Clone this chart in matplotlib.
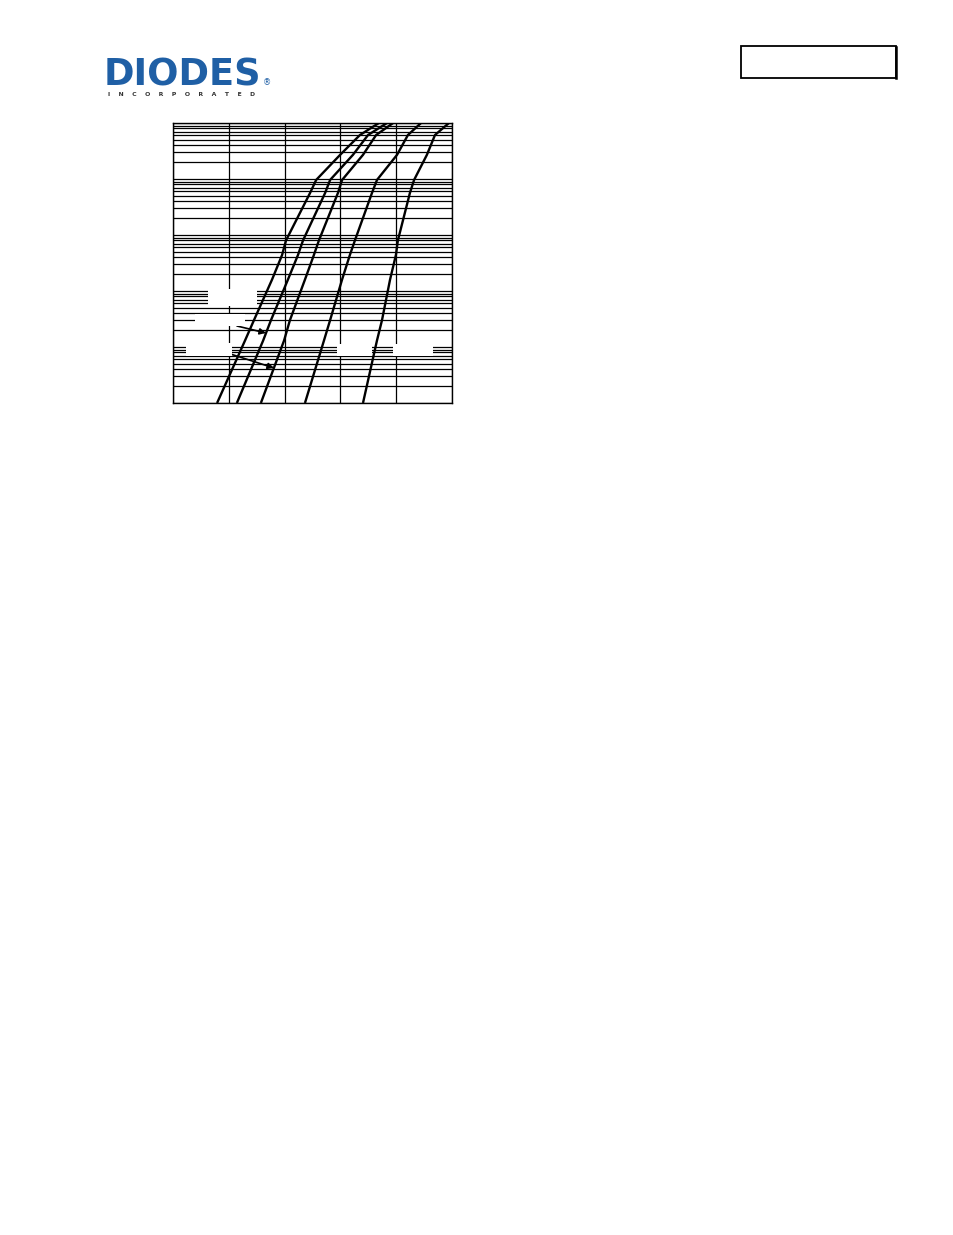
import matplotlib
matplotlib.use("Agg")
import matplotlib.pyplot as plt
from matplotlib.patches import Rectangle
from matplotlib.ticker import LogLocator, MultipleLocator, NullFormatter

W, H = 954, 1235

# forward current levels (mA) shared by all curves
i_f = [0.01, 0.13, 0.3, 1.6, 4.4, 8, 56, 96, 270, 610, 1000]

# forward voltage (V) per curve
v_a = [0.158, 0.258, 0.290, 0.355, 0.391, 0.405, 0.491, 0.513, 0.599, 0.670, 0.738]
v_b = [0.229, 0.323, 0.351, 0.412, 0.448, 0.466, 0.545, 0.563, 0.645, 0.699, 0.767]
v_c = [0.315, 0.398, 0.419, 0.473, 0.505, 0.523, 0.591, 0.606, 0.681, 0.728, 0.789]
v_d = [0.473, 0.541, 0.563, 0.606, 0.634, 0.652, 0.713, 0.731, 0.803, 0.842, 0.889]
v_e = [0.681, 0.731, 0.749, 0.778, 0.799, 0.806, 0.849, 0.864, 0.910, 0.939, 0.989]
curves = [v_a, v_b, v_c, v_d, v_e]


def fpx(x, y):
    """page pixel (from top-left) -> figure fraction"""
    return x / W, 1 - y / H


fig = plt.figure(figsize=(W / 100, H / 100), dpi=100)

# --- header: logo + part number box ---
fig.text(*fpx(104, 86), "DIODES", color="#1f5fa5", fontsize=26.5,
         fontweight="heavy", family=["DejaVu Sans"],
         ha="left", va="baseline")
fig.add_artist(plt.Line2D([104 / W, 240 / W], [1 - 72 / H] * 2, color="white", lw=1.4))
fig.text(*fpx(182, 96), "I    N    C    O    R    P    O    R    A    T    E    D",
         color="#333333", fontsize=4.4, fontweight="bold", ha="center", va="baseline")
fig.text(*fpx(267, 85), "®", color="#1f5fa5", fontsize=6, ha="center", va="baseline")

x0, y0 = fpx(741, 78)
fig.add_artist(Rectangle((x0, y0), 155 / W, 32 / H, transform=fig.transFigure,
                         facecolor="white", edgecolor="black", lw=1.3))
fig.add_artist(plt.Line2D([896.5 / W] * 2, [1 - 47 / H, 1 - 78 / H], color="black", lw=1.8))

# --- chart ---
left, right, top, bottom = 173, 452, 123, 403
ax = fig.add_axes([left / W, 1 - bottom / H, (right - left) / W, (bottom - top) / H])
ax.set_xlim(0, 1.0)
ax.set_yscale("log")
ax.set_ylim(0.01, 1000)
ax.xaxis.set_major_locator(MultipleLocator(0.2))
ax.yaxis.set_major_locator(LogLocator(base=10, numticks=10))
ax.yaxis.set_minor_locator(LogLocator(base=10, subs=range(2, 10), numticks=20))
ax.yaxis.set_minor_formatter(NullFormatter())
ax.tick_params(which="both", length=0, labelleft=False, labelbottom=False)
ax.grid(True, which="both", axis="y", color="black", lw=0.9)
ax.grid(True, which="major", axis="x", color="black", lw=0.9)
ax.set_axisbelow(True)
for s in ax.spines.values():
    s.set_linewidth(1.0)

for v in curves:
    ax.plot(v, i_f, color="black", lw=1.7, zorder=3, solid_capstyle="butt",
            solid_joinstyle="round")

# blanked label areas (text removed in source)
masks = [(208, 289, 257, 306), (195, 314, 245, 326), (186, 343, 232, 356),
         (337, 344, 372, 356), (393, 344, 433, 356)]
for x1, y1, x2, y2 in masks:
    mx, my = fpx(x1, y2)
    fig.add_artist(Rectangle((mx, my), (x2 - x1) / W, (y2 - y1) / H,
                             transform=fig.transFigure, facecolor="white",
                             edgecolor="none", zorder=2))

arrows = [((237, 326), (266, 333)), ((218, 350), (274, 368))]
for (sx, sy), (ex, ey) in arrows:
    ax.annotate("", xy=fpx(ex, ey), xycoords="figure fraction",
                xytext=fpx(sx, sy), textcoords="figure fraction",
                arrowprops=dict(arrowstyle="-|>", color="black", lw=1.2,
                                mutation_scale=9, shrinkA=0, shrinkB=0),
                zorder=4)

fig.savefig("out.png", dpi=100, facecolor="white")
